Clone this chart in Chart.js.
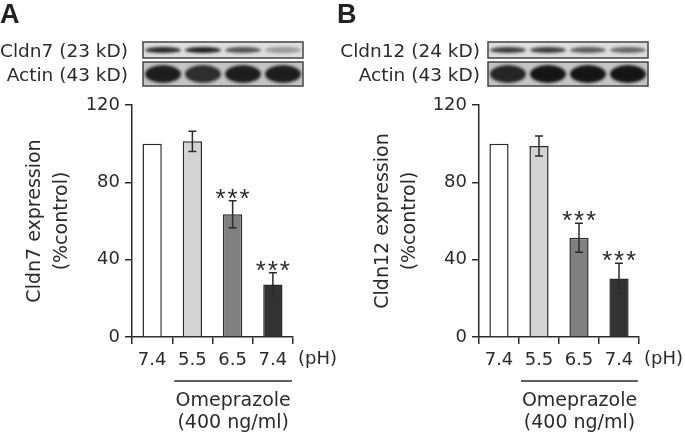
<!DOCTYPE html>
<html lang="en">
<head>
<meta charset="UTF-8">
<title>Cldn7 / Cldn12 expression</title>
<script src="https://cdn.jsdelivr.net/npm/chart.js@4.4.1/dist/chart.umd.min.js"></script>
<style>
  body { margin: 0; background: #fff; }
  #wrap { position: relative; width: 685px; height: 436px; }
  canvas { position: absolute; top: 0; }
  #panelA { left: 0; }
  #panelB { left: 330px; }
</style>
</head>
<body>
<div id="wrap">
  <canvas id="panelA" width="345" height="436" style="width:345px;height:436px"></canvas>
  <canvas id="panelB" width="355" height="436" style="width:355px;height:436px"></canvas>
</div>
<script>
// values
const categories = ['7.4', '5.5', '6.5', '7.4'];
const yTicks = [0, 40, 80, 120];
const cldn7Mean = [100, 101.2, 63.5, 27.2];
const cldn7Err = [0, 5.2, 7, 6];
const cldn12Mean = [100, 98.8, 51.4, 30.2];
const cldn12Err = [0, 5.2, 7.5, 8];
const stars = ['', '', '***', '***'];
const barColors = ['#ffffff', '#d4d4d6', '#808080', '#333333'];
// blot band darkness per lane
const cldn7Bands = [0.9, 0.95, 0.7, 0.35];
const cldn12Bands = [0.8, 0.8, 0.65, 0.6];
const actinBandsA = [0.95, 0.85, 0.95, 0.95];
const actinBandsB = [0.9, 1, 1, 1];

const FONT = '"DejaVu Sans", sans-serif';
const INK = '#2b2b2b';

function drawStrip(ctx, x, y, w, h, levels, ry, bg) {
  ctx.save();
  ctx.fillStyle = bg;
  ctx.fillRect(x, y, w, h);
  ctx.beginPath();
  ctx.rect(x, y, w, h);
  ctx.clip();
  ctx.filter = 'blur(1.5px)';
  const lane = w / levels.length;
  levels.forEach((a, i) => {
    ctx.fillStyle = `rgba(20,20,20,${a})`;
    ctx.beginPath();
    ctx.ellipse(x + lane * (i + 0.5), y + h / 2, lane * 0.45, ry, 0, 0, Math.PI * 2);
    ctx.fill();
  });
  ctx.restore();
  ctx.strokeStyle = '#444';
  ctx.lineWidth = 1.5;
  ctx.strokeRect(x, y, w, h);
}

const panelDeco = {
  id: 'panelDeco',
  beforeDraw(chart, args, o) {
    const ctx = chart.ctx;
    ctx.save();
    ctx.fillStyle = '#222';
    ctx.font = 'bold 27px "Liberation Sans", sans-serif';
    ctx.textAlign = 'left';
    ctx.textBaseline = 'alphabetic';
    ctx.fillText(o.letter, o.letterX, 22.5);

    ctx.fillStyle = INK;
    ctx.font = '18.5px ' + FONT;
    ctx.textAlign = 'right';
    ctx.fillText(o.bandLabel, o.labelRight, 56.5);
    ctx.fillText('Actin (43 kD)', o.labelRight, 80.5);
    drawStrip(ctx, o.blotLeft, 42, 160, 16, o.bands, 3, '#dedede');
    drawStrip(ctx, o.blotLeft, 62, 160, 24, o.actin, 9, '#c4c4c4');
    ctx.restore();
  },
  afterDatasetsDraw(chart, args, o) {
    const ctx = chart.ctx;
    const y = chart.scales.y;
    const meta = chart.getDatasetMeta(0);
    const mean = chart.data.datasets[0].data;
    ctx.save();
    ctx.strokeStyle = INK;
    ctx.lineWidth = 1.5;
    meta.data.forEach((bar, i) => {
      const e = o.err[i];
      if (!e) return;
      const top = y.getPixelForValue(mean[i] + e);
      const bot = y.getPixelForValue(mean[i] - e);
      ctx.beginPath();
      ctx.moveTo(bar.x, top); ctx.lineTo(bar.x, bot);
      ctx.moveTo(bar.x - 4, top); ctx.lineTo(bar.x + 4, top);
      ctx.moveTo(bar.x - 4, bot); ctx.lineTo(bar.x + 4, bot);
      ctx.stroke();
      if (o.stars[i]) {
        ctx.fillStyle = INK;
        ctx.font = '26px "Liberation Sans", sans-serif';
        ctx.textAlign = 'center';
        ctx.textBaseline = 'alphabetic';
        const n = o.stars[i].length;
        for (let k = 0; k < n; k++) {
          ctx.fillText('*', bar.x + (k - (n - 1) / 2) * 12, top + 6);
        }
      }
    });
    ctx.restore();
  },
  afterDraw(chart) {
    const ctx = chart.ctx;
    const xs = chart.scales.x;
    const cat = xs.width / categories.length;
    const left = xs.left + cat + 2;
    const right = xs.right - 1;
    ctx.save();
    ctx.fillStyle = INK;
    ctx.strokeStyle = INK;
    ctx.font = '18px ' + FONT;
    ctx.textAlign = 'left';
    ctx.textBaseline = 'top';
    ctx.fillText('(pH)', xs.right + 5, xs.top + 7 + 6);
    ctx.lineWidth = 1.5;
    ctx.beginPath();
    ctx.moveTo(left, 381); ctx.lineTo(right, 381);
    ctx.stroke();
    ctx.font = '19px ' + FONT;
    ctx.textAlign = 'center';
    ctx.textBaseline = 'alphabetic';
    ctx.fillText('Omeprazole', (left + right) / 2, 406);
    ctx.fillText('(400 ng/ml)', (left + right) / 2, 428);
    ctx.restore();
  }
};

function buildPanel(id, p) {
  return new Chart(document.getElementById(id), {
    type: 'bar',
    data: {
      labels: categories,
      datasets: [{
        data: p.mean,
        backgroundColor: barColors,
        borderColor: INK,
        borderWidth: 1.5,
        barPercentage: 0.48,
        categoryPercentage: 1
      }]
    },
    options: {
      responsive: false,
      animation: false,
      layout: { padding: { top: 105, right: p.padRight, bottom: 0, left: 0 } },
      scales: {
        x: {
          afterFit: s => { s.height = 99; },
          grid: { drawOnChartArea: false, tickLength: 7, color: INK, lineWidth: 1.5 },
          border: { color: INK, width: 1.5 },
          ticks: { color: INK, padding: 6, font: { family: FONT, size: 18 } }
        },
        y: {
          min: 0,
          max: 120,
          afterBuildTicks: s => { s.ticks = yTicks.map(v => ({ value: v })); },
          afterFit: s => { s.width = p.axisLeft; },
          grid: { drawOnChartArea: false, tickLength: 7, color: INK, lineWidth: 1.5 },
          border: { color: INK, width: 1.5 },
          ticks: { color: INK, padding: 5, font: { family: FONT, size: 18 } },
          title: {
            display: true,
            text: [p.yTitle, '(%control)'],
            color: INK,
            padding: { top: p.titlePad, bottom: 0 },
            font: { family: FONT, size: 19, lineHeight: '27.5px' }
          }
        }
      },
      plugins: {
        legend: { display: false },
        tooltip: { enabled: false },
        panelDeco: {
          letter: p.letter,
          letterX: p.letterX,
          bandLabel: p.bandLabel,
          labelRight: p.labelRight,
          blotLeft: p.blotLeft,
          bands: p.bands,
          actin: p.actin,
          err: p.err,
          stars: stars
        }
      }
    },
    plugins: [panelDeco]
  });
}

buildPanel('panelA', {
  mean: cldn7Mean, err: cldn7Err, yTitle: 'Cldn7 expression',
  letter: 'A', letterX: 0, bandLabel: 'Cldn7 (23 kD)', labelRight: 128,
  blotLeft: 143, bands: cldn7Bands, actin: actinBandsA,
  axisLeft: 132, padRight: 52, titlePad: 21
});

buildPanel('panelB', {
  mean: cldn12Mean, err: cldn12Err, yTitle: 'Cldn12 expression',
  letter: 'B', letterX: 7, bandLabel: 'Cldn12 (24 kD)', labelRight: 150,
  blotLeft: 158, bands: cldn12Bands, actin: actinBandsB,
  axisLeft: 149, padRight: 46, titlePad: 39
});
</script>
</body>
</html>
